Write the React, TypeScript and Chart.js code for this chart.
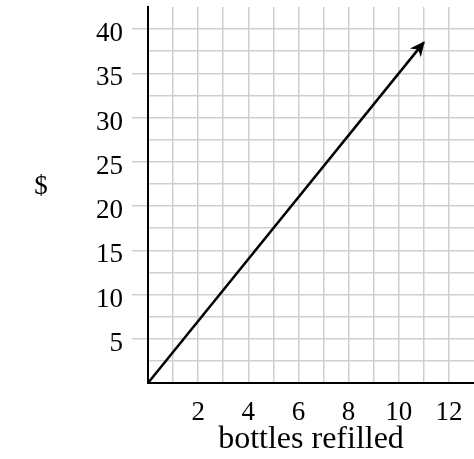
import { useEffect, useRef } from 'react';
import { Chart, registerables } from 'chart.js';

Chart.register(...registerables);

// Cost of refills: $3.50 per bottle, drawn as a ray from the origin
const bottles = [0, 11];
const dollars = [0, 38.5];

// Axis ranges and the tick values that carry a label
const xMax = 13;
const yMax = 42.5;
const xLabelValues = [2, 4, 6, 8, 10, 12];
const yLabelValues = [5, 10, 15, 20, 25, 30, 35, 40];

const FONT = "'Liberation Serif', 'Times New Roman', serif";
const GRID = '#cfcfcf';
const CLEAR = 'rgba(0,0,0,0)';

// Filled arrowhead at the end of the line, oriented along its last segment
const arrowHead = {
  id: 'arrowHead',
  afterDatasetsDraw(chart: any) {
    const pts = chart.getDatasetMeta(0).data;
    if (pts.length < 2) return;
    const a = pts[pts.length - 2];
    const b = pts[pts.length - 1];
    const ang = Math.atan2(b.y - a.y, b.x - a.x);
    const ctx = chart.ctx;
    ctx.save();
    ctx.translate(b.x, b.y);
    ctx.rotate(ang);
    ctx.beginPath();
    ctx.moveTo(1.5, 0);
    ctx.lineTo(-13.5, -7);
    ctx.lineTo(-9, 0);
    ctx.lineTo(-13.5, 7);
    ctx.closePath();
    ctx.fillStyle = '#000';
    ctx.fill();
    ctx.restore();
  },
};

// Upright "$" caption to the left of the y axis
const sideLabel = {
  id: 'sideLabel',
  afterDraw(chart: any) {
    const { ctx, chartArea } = chart;
    ctx.save();
    ctx.font = `27px ${FONT}`;
    ctx.fillStyle = '#000';
    ctx.textAlign = 'center';
    ctx.textBaseline = 'middle';
    ctx.fillText('$', 41, (chartArea.top + chartArea.bottom) / 2 - 8);
    ctx.restore();
  },
};

export default function App() {
  const canvasRef = useRef<HTMLCanvasElement | null>(null);

  useEffect(() => {
    document.body.style.margin = '0';
    const canvas = canvasRef.current;
    if (!canvas) return;

    const chart = new Chart(canvas, {
      type: 'line',
      data: {
        datasets: [
          {
            data: bottles.map((x, i) => ({ x, y: dollars[i] })),
            borderColor: '#000',
            borderWidth: 2.5,
            pointRadius: 0,
            tension: 0,
            clip: false,
          },
        ],
      },
      options: {
        animation: false,
        responsive: true,
        maintainAspectRatio: false,
        layout: { padding: { top: 7, right: 0, bottom: 0, left: 0 } },
        plugins: {
          legend: { display: false },
          tooltip: { enabled: false },
        },
        scales: {
          x: {
            type: 'linear',
            min: 0,
            max: xMax,
            afterFit: (s: any) => {
              s.height = 76;
              s.paddingLeft = 0;
              s.paddingRight = 0;
            },
            grid: {
              color: (c: any) =>
                c.tick && (c.tick.value === 0 || c.tick.value === xMax) ? CLEAR : GRID,
              lineWidth: 1.5,
              drawTicks: false,
            },
            border: { display: true, color: '#000', width: 2 },
            ticks: {
              stepSize: 1,
              autoSkip: false,
              maxRotation: 0,
              padding: 14,
              color: '#000',
              font: { family: FONT, size: 27 },
              callback: (v: any) => (xLabelValues.includes(Number(v)) ? String(v) : ''),
            },
            title: {
              display: true,
              text: 'bottles refilled',
              color: '#000',
              font: { family: FONT, size: 32 },
              padding: { top: 0, bottom: 0 },
            },
          },
          y: {
            type: 'linear',
            min: 0,
            max: yMax,
            afterFit: (s: any) => {
              s.width = 148;
              s.paddingTop = 0;
              s.paddingBottom = 0;
            },
            grid: {
              color: (c: any) =>
                c.tick && (c.tick.value === 0 || c.tick.value === yMax) ? CLEAR : GRID,
              tickColor: (c: any) =>
                c.tick && yLabelValues.includes(c.tick.value) ? GRID : CLEAR,
              lineWidth: 1.5,
              tickLength: 16,
            },
            border: { display: true, color: '#000', width: 2 },
            ticks: {
              stepSize: 2.5,
              autoSkip: false,
              padding: 9,
              labelOffset: 5,
              color: '#000',
              font: { family: FONT, size: 27 },
              callback: (v: any) => (yLabelValues.includes(Number(v)) ? String(v) : ''),
            },
          },
        },
      },
      plugins: [arrowHead, sideLabel],
    });

    return () => chart.destroy();
  }, []);

  return (
    <div style={{ position: 'relative', width: 474, height: 459 }}>
      <canvas ref={canvasRef} />
    </div>
  );
}
